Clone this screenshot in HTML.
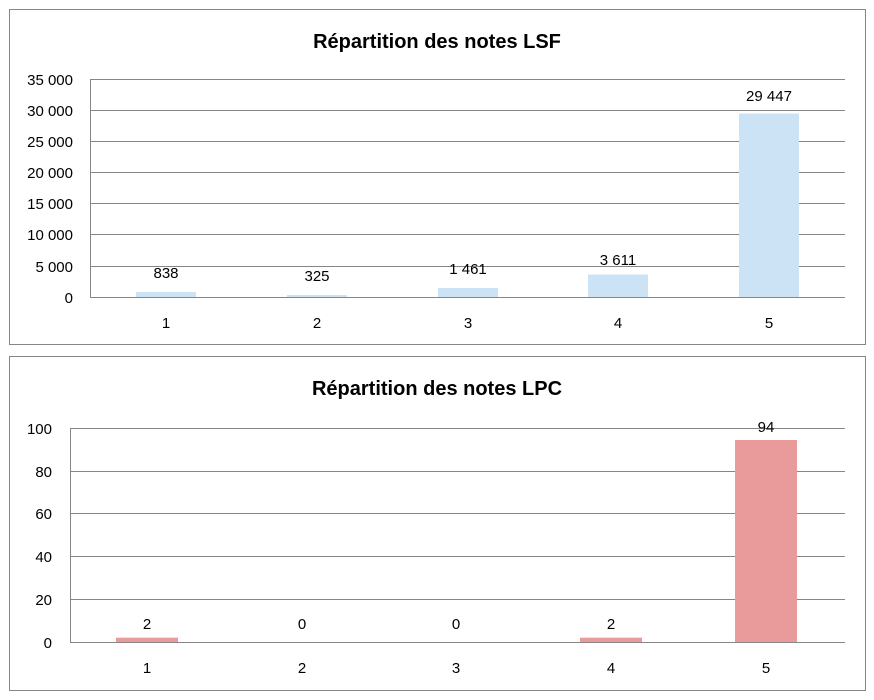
<!DOCTYPE html>
<html><head><meta charset="utf-8"><style>
body{margin:0;background:#fff;width:874px;height:700px;overflow:hidden}
svg{display:block;font-family:"Liberation Sans",sans-serif}
</style></head><body>
<svg width="874" height="700" xmlns="http://www.w3.org/2000/svg">
<rect x="9.5" y="9.5" width="856" height="335" fill="#fff" stroke="#868686"/>
<text x="437" y="48" text-anchor="middle" font-size="20" font-weight="bold" fill="#000">Répartition des notes LSF</text>
<g stroke="#868686" stroke-width="1">
<line x1="90" y1="79.5" x2="845" y2="79.5"/><line x1="90" y1="110.5" x2="845" y2="110.5"/>
<line x1="90" y1="141.5" x2="845" y2="141.5"/><line x1="90" y1="172.5" x2="845" y2="172.5"/>
<line x1="90" y1="203.5" x2="845" y2="203.5"/><line x1="90" y1="234.5" x2="845" y2="234.5"/>
<line x1="90" y1="266.5" x2="845" y2="266.5"/><line x1="90" y1="297.5" x2="845" y2="297.5"/>
<line x1="90.5" y1="79" x2="90.5" y2="297"/>
</g>
<g font-size="15" fill="#000" text-anchor="end">
<text x="73" y="85">35 000</text><text x="73" y="116">30 000</text><text x="73" y="147">25 000</text>
<text x="73" y="178">20 000</text><text x="73" y="209">15 000</text><text x="73" y="240">10 000</text>
<text x="73" y="272">5 000</text><text x="73" y="303">0</text>
</g>
<g fill="#cce3f5">
<rect x="136" y="292" width="60" height="5"/><rect x="287" y="295" width="60" height="2"/>
<rect x="438" y="288" width="60" height="9"/><rect x="588" y="274.5" width="60" height="22.5"/>
<rect x="739" y="113.5" width="60" height="183.5"/>
</g>
<g font-size="15" fill="#000" text-anchor="middle">
<text x="166" y="278">838</text><text x="317" y="281">325</text><text x="468" y="274">1 461</text>
<text x="618" y="265">3 611</text><text x="769" y="101">29 447</text>
<text x="166" y="328">1</text><text x="317" y="328">2</text><text x="468" y="328">3</text>
<text x="618" y="328">4</text><text x="769" y="328">5</text>
</g>

<rect x="9.5" y="356.5" width="856" height="334" fill="#fff" stroke="#868686"/>
<text x="437" y="395" text-anchor="middle" font-size="20" font-weight="bold" fill="#000">Répartition des notes LPC</text>
<g stroke="#868686" stroke-width="1">
<line x1="70" y1="428.5" x2="845" y2="428.5"/><line x1="70" y1="471.5" x2="845" y2="471.5"/>
<line x1="70" y1="513.5" x2="845" y2="513.5"/><line x1="70" y1="556.5" x2="845" y2="556.5"/>
<line x1="70" y1="599.5" x2="845" y2="599.5"/><line x1="70" y1="642.5" x2="845" y2="642.5"/>
<line x1="70.5" y1="428" x2="70.5" y2="642"/>
</g>
<g font-size="15" fill="#000" text-anchor="end">
<text x="52" y="434">100</text><text x="52" y="477">80</text><text x="52" y="519">60</text>
<text x="52" y="562">40</text><text x="52" y="605">20</text><text x="52" y="648">0</text>
</g>
<g fill="#e99a9a">
<rect x="116" y="637.7" width="62" height="4.3"/><rect x="580" y="637.7" width="62" height="4.3"/>
<rect x="735" y="440" width="62" height="202"/>
</g>
<g font-size="15" fill="#000" text-anchor="middle">
<text x="147" y="629">2</text><text x="302" y="629">0</text><text x="456" y="629">0</text>
<text x="611" y="629">2</text><text x="766" y="432">94</text>
<text x="147" y="673">1</text><text x="302" y="673">2</text><text x="456" y="673">3</text>
<text x="611" y="673">4</text><text x="766" y="673">5</text>
</g>
</svg>
</body></html>
